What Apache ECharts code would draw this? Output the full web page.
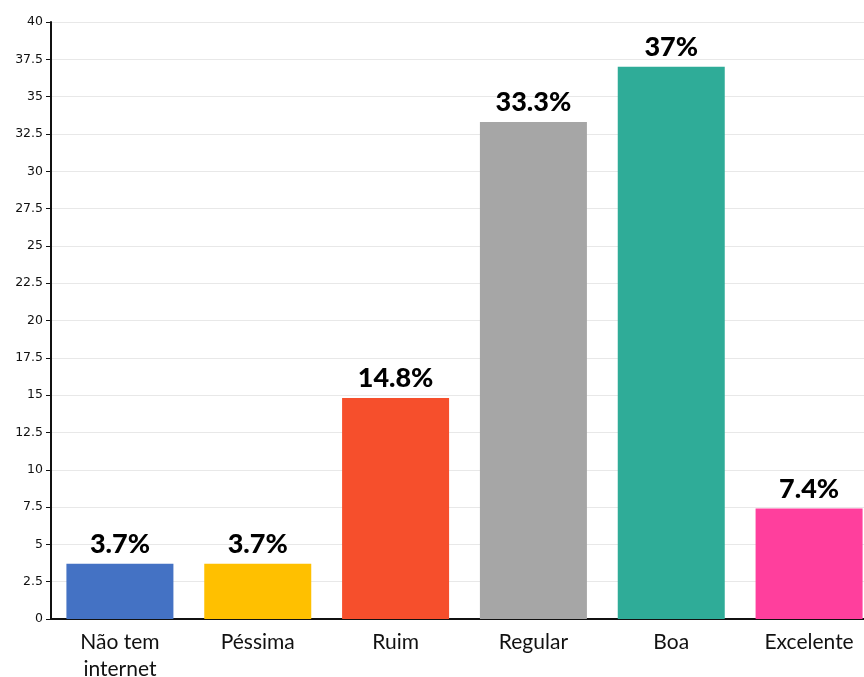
<!DOCTYPE html>
<html>
<head>
<meta charset="utf-8">
<script src="https://cdn.jsdelivr.net/npm/echarts@6/dist/echarts.min.js"></script>
<style>
  html, body { margin: 0; padding: 0; background: #fff; }
  #chart { width: 864px; height: 677px; }
</style>
</head>
<body>
<div id="chart"></div>
<script>
// Avaliação da conexão de internet
const categories = ['Não tem\ninternet', 'Péssima', 'Ruim', 'Regular', 'Boa', 'Excelente'];
const values = [3.7, 3.7, 14.8, 33.3, 37, 7.4];
const barColors = ['#4472C4', '#FFC000', '#F64F2C', '#A6A6A6', '#2FAC98', '#FF3F9D'];

const chart = echarts.init(document.getElementById('chart'), null, { renderer: 'canvas' });

chart.setOption({
  animation: false,
  grid: { left: 51, top: 22, width: 827, height: 597, outerBoundsMode: 'none' },
  xAxis: {
    type: 'category',
    data: categories,
    axisLine: { lineStyle: { color: '#111', width: 2 } },
    axisTick: { alignWithLabel: true, length: 6, lineStyle: { color: '#111', width: 1 } },
    axisLabel: {
      color: '#111', fontSize: 21, fontFamily: 'Lato, "Noto Sans", sans-serif',
      margin: 10, lineHeight: 27, interval: 0
    }
  },
  yAxis: {
    type: 'value',
    min: 0, max: 40, interval: 2.5,
    axisLine: { show: true, lineStyle: { color: '#111', width: 2 } },
    axisTick: { show: true, length: 5, lineStyle: { color: '#111', width: 1 } },
    axisLabel: { color: '#111', fontSize: 12.5, fontFamily: '"DejaVu Sans", sans-serif', margin: 8 },
    splitLine: { lineStyle: { color: '#e8e8e8', width: 1 } }
  },
  series: [{
    type: 'bar',
    barWidth: 107,
    data: values.map((v, i) => ({ value: v, itemStyle: { color: barColors[i] } })),
    label: {
      show: true, position: 'top', distance: 6,
      formatter: p => p.value + '%',
      color: '#000', fontSize: 27, fontWeight: 900,
      fontFamily: 'Lato, "Noto Sans", sans-serif'
    }
  }]
});
</script>
</body>
</html>
